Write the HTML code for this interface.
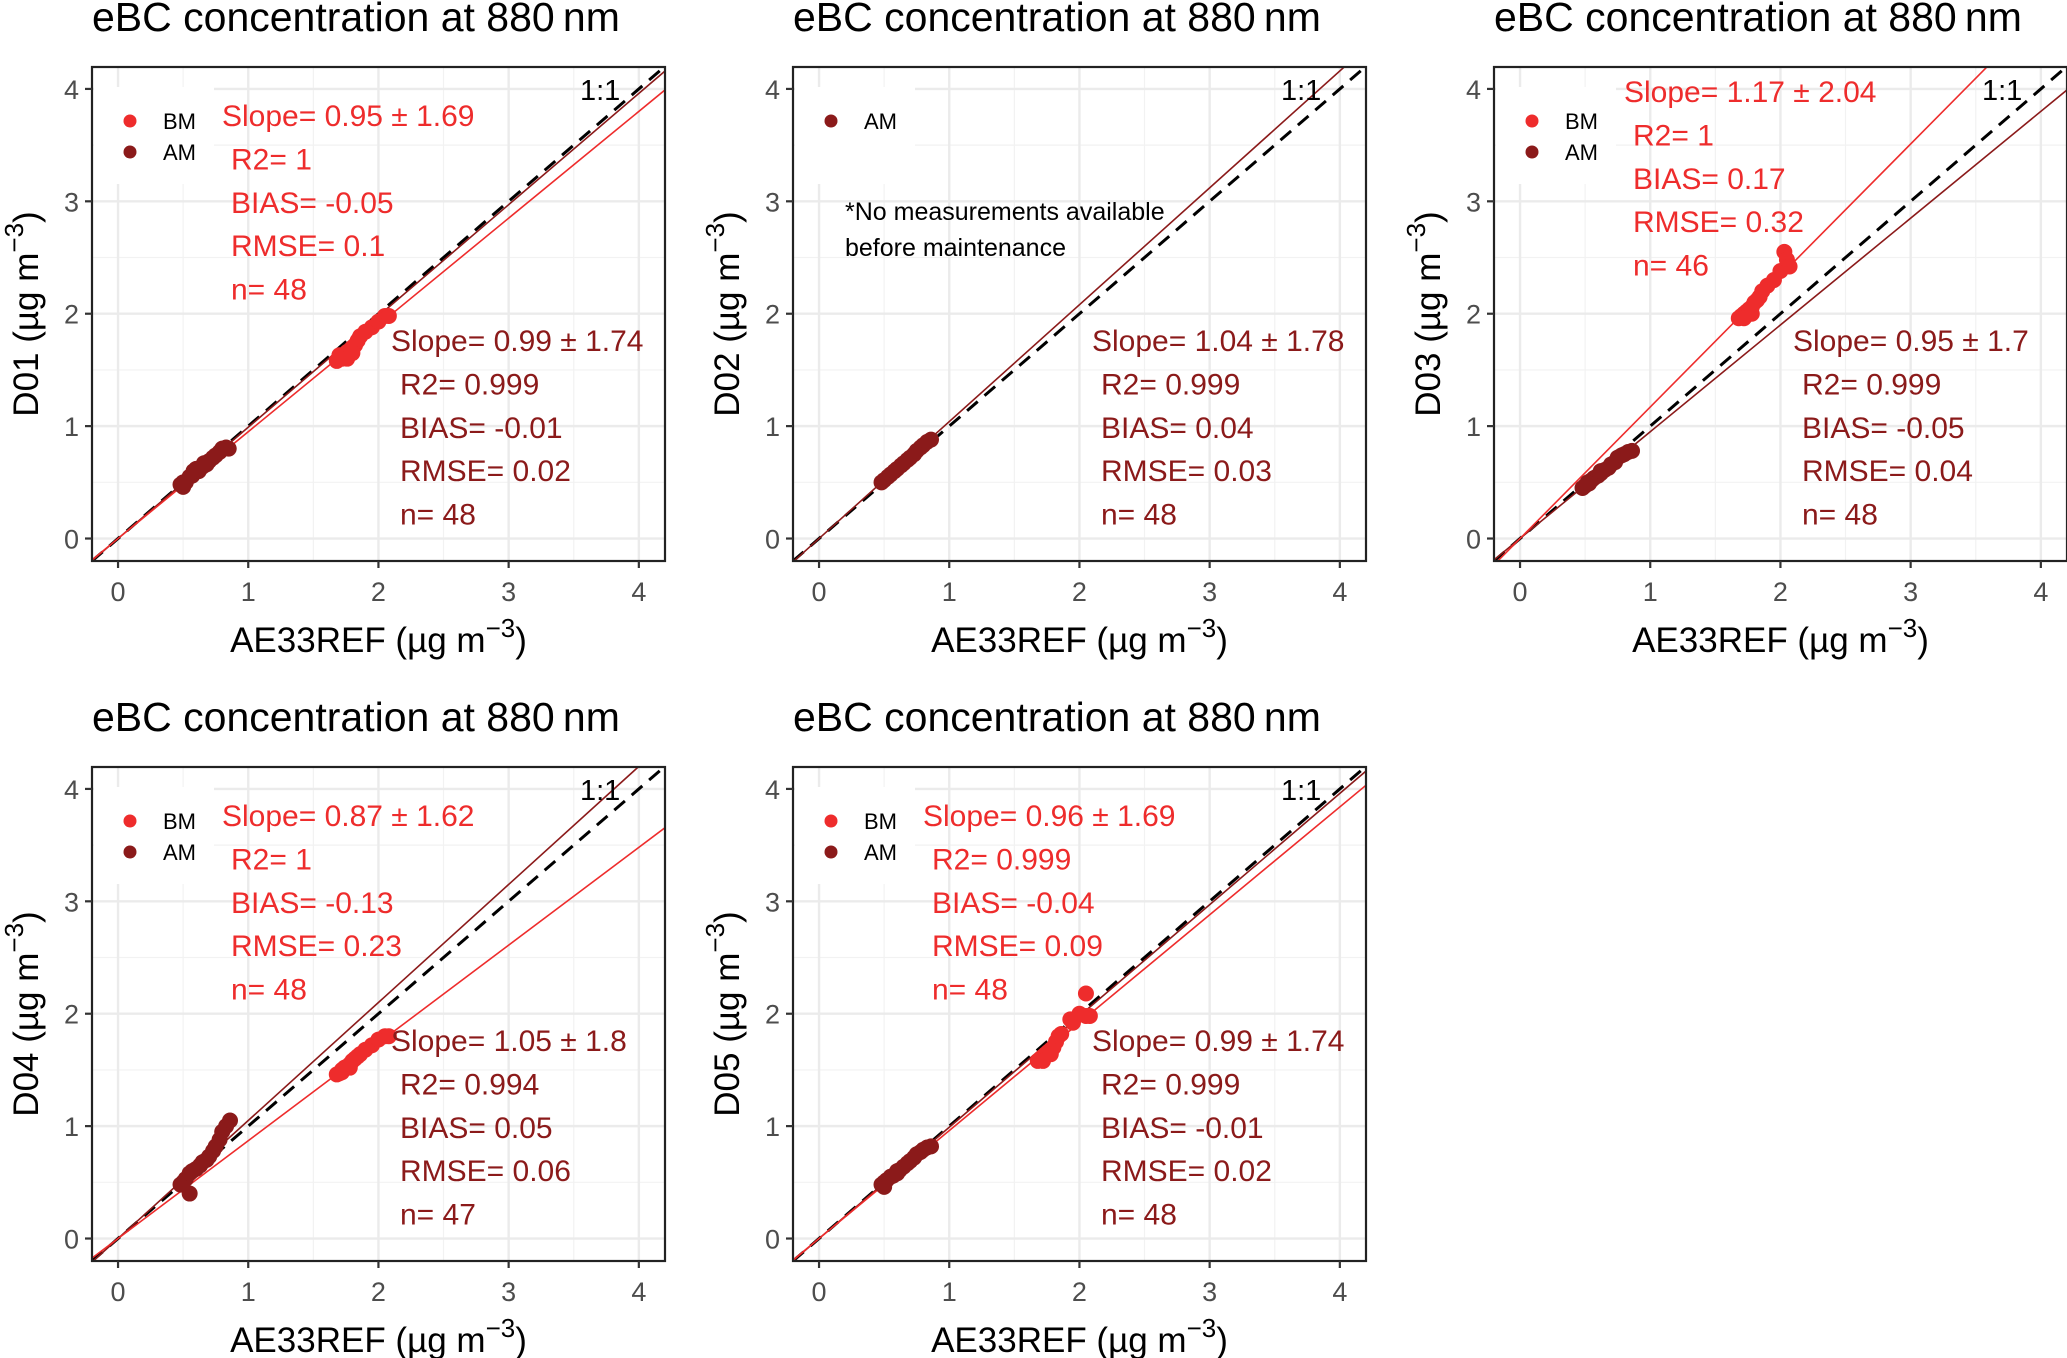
<!DOCTYPE html>
<html><head><meta charset="utf-8"><style>
html,body{margin:0;padding:0;background:#fff;}
svg{display:block;font-family:"Liberation Sans",Arial,sans-serif;}
</style></head><body>
<svg id="chart" width="2067" height="1358" viewBox="0 0 2067 1358" xmlns="http://www.w3.org/2000/svg"></svg>
<script>
const panelNames = ["D01","D02","D03","D04","D05"];
const bmSlope = [0.95, null, 1.17, 0.87, 0.96];
const amSlope = [0.99, 1.04, 0.95, 1.05, 0.99];
const bmStats = [
 ["Slope= 0.95 \u00b1 1.69","R2= 1","BIAS= -0.05","RMSE= 0.1","n= 48"],
 null,
 ["Slope= 1.17 \u00b1 2.04","R2= 1","BIAS= 0.17","RMSE= 0.32","n= 46"],
 ["Slope= 0.87 \u00b1 1.62","R2= 1","BIAS= -0.13","RMSE= 0.23","n= 48"],
 ["Slope= 0.96 \u00b1 1.69","R2= 0.999","BIAS= -0.04","RMSE= 0.09","n= 48"]];
const amStats = [
 ["Slope= 0.99 \u00b1 1.74","R2= 0.999","BIAS= -0.01","RMSE= 0.02","n= 48"],
 ["Slope= 1.04 \u00b1 1.78","R2= 0.999","BIAS= 0.04","RMSE= 0.03","n= 48"],
 ["Slope= 0.95 \u00b1 1.7","R2= 0.999","BIAS= -0.05","RMSE= 0.04","n= 48"],
 ["Slope= 1.05 \u00b1 1.8","R2= 0.994","BIAS= 0.05","RMSE= 0.06","n= 47"],
 ["Slope= 0.99 \u00b1 1.74","R2= 0.999","BIAS= -0.01","RMSE= 0.02","n= 48"]];
const amX = [
 [0.48,0.5,0.52,0.55,0.57,0.6,0.62,0.65,0.68,0.7,0.73,0.75,0.78,0.8,0.83,0.85,0.5,0.58,0.66],
 [0.48,0.5,0.53,0.55,0.58,0.6,0.63,0.65,0.68,0.7,0.73,0.75,0.78,0.8,0.83,0.86],
 [0.48,0.5,0.52,0.55,0.57,0.6,0.62,0.65,0.68,0.7,0.73,0.75,0.78,0.8,0.83,0.86,0.53,0.62],
 [0.48,0.5,0.52,0.55,0.57,0.6,0.63,0.65,0.68,0.7,0.73,0.75,0.78,0.8,0.83,0.86,0.55],
 [0.48,0.5,0.52,0.55,0.57,0.6,0.62,0.65,0.68,0.7,0.73,0.75,0.78,0.8,0.83,0.86,0.5,0.6]];
const amY = [
 [0.48,0.5,0.5,0.55,0.56,0.62,0.6,0.64,0.66,0.69,0.72,0.74,0.77,0.8,0.81,0.8,0.46,0.6,0.67],
 [0.5,0.52,0.55,0.57,0.6,0.62,0.65,0.67,0.7,0.72,0.75,0.78,0.81,0.83,0.86,0.88],
 [0.45,0.47,0.5,0.52,0.54,0.56,0.58,0.61,0.63,0.66,0.68,0.72,0.74,0.75,0.77,0.78,0.49,0.6],
 [0.48,0.5,0.53,0.58,0.6,0.62,0.65,0.68,0.7,0.73,0.78,0.82,0.88,0.95,1.0,1.05,0.4],
 [0.48,0.5,0.52,0.55,0.56,0.6,0.61,0.64,0.67,0.69,0.72,0.75,0.77,0.79,0.81,0.82,0.46,0.58]];
const bmX = [
 [1.68,1.7,1.72,1.74,1.76,1.78,1.8,1.82,1.84,1.86,1.9,1.95,2.0,2.05,2.08,1.7,1.76,1.8],
 [],
 [1.68,1.7,1.72,1.74,1.76,1.78,1.8,1.82,1.84,1.86,1.9,1.95,2.0,2.03,2.05,2.07,1.72,1.78],
 [1.68,1.7,1.72,1.74,1.76,1.78,1.8,1.82,1.84,1.86,1.9,1.95,2.0,2.05,2.08,1.72,1.78],
 [1.68,1.7,1.72,1.74,1.76,1.78,1.8,1.82,1.84,1.86,1.93,1.95,2.0,2.05,2.08,2.05,1.72,1.78]];
const bmY = [
 [1.58,1.6,1.6,1.63,1.66,1.65,1.7,1.72,1.76,1.8,1.84,1.88,1.93,1.98,1.98,1.63,1.6,1.65],
 [],
 [1.96,1.98,2.0,2.02,2.04,2.06,2.1,2.12,2.15,2.2,2.25,2.3,2.38,2.55,2.48,2.42,1.96,2.0],
 [1.46,1.47,1.5,1.52,1.53,1.55,1.58,1.6,1.62,1.64,1.68,1.72,1.77,1.8,1.8,1.48,1.52],
 [1.58,1.6,1.62,1.64,1.66,1.68,1.7,1.75,1.8,1.82,1.95,1.92,2.0,1.98,1.98,2.18,1.58,1.64]];
const ticks = [0,1,2,3,4];
const minors = [0.5,1.5,2.5,3.5];

const NS="http://www.w3.org/2000/svg";
const svg=document.getElementById('chart');
const RED="#ee2c2c", DARK="#8b1a1a";
function mk(tag,attrs,parent){const e=document.createElementNS(NS,tag);for(const k in attrs)e.setAttribute(k,attrs[k]);(parent||svg).appendChild(e);return e;}

panelNames.forEach((name,i)=>{
  const col=i%3,row=Math.floor(i/3);
  const L=92+col*701, T=67+row*700, W=573, H=494, B=T+H, R=L+W;
  const sx=v=>L+(v+0.2)*130.2;
  const sy=v=>B-(v+0.2)*112.4;
  const g=mk('g',{});
  
  
  const cid='clip'+i;
  const cp=mk('clipPath',{id:cid},g); mk('rect',{x:L,y:T,width:W,height:H},cp);
  minors.forEach(v=>{
    const a=mk('line',{x1:sx(v),x2:sx(v),y1:T,y2:B,stroke:'#f2f2f2','stroke-width':1.2},g);
    
    const b=mk('line',{x1:L,x2:R,y1:sy(v),y2:sy(v),stroke:'#f2f2f2','stroke-width':1.2},g);
    
  });
  ticks.forEach(v=>{
    const a=mk('line',{x1:sx(v),x2:sx(v),y1:T,y2:B,stroke:'#ebebeb','stroke-width':2.4},g);
    
    const b=mk('line',{x1:L,x2:R,y1:sy(v),y2:sy(v),stroke:'#ebebeb','stroke-width':2.4},g);
    
  });
  const lb=mk('rect',{x:L+2,y:T+20,width:120,height:97,fill:'#fff'},g);
  
  const lines=mk('g',{'clip-path':'url(#'+cid+')'},g);
  const one=mk('line',{x1:sx(-0.2),y1:sy(-0.2),x2:sx(4.2),y2:sy(4.2),stroke:'#000','stroke-width':3,'stroke-dasharray':'14,9'},lines);
  
  const am=mk('line',{x1:sx(-0.2),y1:sy(-0.2*amSlope[i]),x2:sx(4.2),y2:sy(4.2*amSlope[i]),stroke:DARK,'stroke-width':1.6},lines);
  
  if(bmSlope[i]!==null){
    const bm=mk('line',{x1:sx(-0.2),y1:sy(-0.2*bmSlope[i]),x2:sx(4.2),y2:sy(4.2*bmSlope[i]),stroke:RED,'stroke-width':1.6},lines);
    
  }
  bmX[i].forEach((x,k)=>{
    const c=mk('circle',{cx:sx(x),cy:sy(bmY[i][k]),r:8,fill:RED},g);
    
  });
  amX[i].forEach((x,k)=>{
    const c=mk('circle',{cx:sx(x),cy:sy(amY[i][k]),r:8,fill:DARK},g);
    
  });
  const bd=mk('rect',{x:L,y:T,width:W,height:H,fill:'none',stroke:'#222','stroke-width':2.2},g);
  
  ticks.forEach(v=>{
    mk('line',{x1:sx(v),x2:sx(v),y1:B,y2:B+7,stroke:'#333','stroke-width':2.2},g);
    mk('line',{x1:L-7,x2:L,y1:sy(v),y2:sy(v),stroke:'#333','stroke-width':2.2},g);
    const tx=mk('text',{x:sx(v),y:B+40,'text-anchor':'middle','font-size':27,fill:'#4d4d4d'},g);
    tx.textContent=v;
    
    const ty=mk('text',{x:L-13,y:sy(v)+10,'text-anchor':'end','font-size':27,fill:'#4d4d4d'},g);
    ty.textContent=v;
    
  });
  const tt=mk('text',{x:L,y:T-36,'font-size':41,fill:'#000'},g);
  tt.textContent='eBC concentration at 880\u2009nm';
  
  const xt=mk('text',{x:(L+R)/2,y:B+91,'text-anchor':'middle','font-size':35,fill:'#000'},g);
  xt.innerHTML='AE33REF (\u00b5g m<tspan dy="-15" font-size="26">\u22123</tspan><tspan dy="15">)</tspan>';
  
  const yx=L-54, yy=(T+B)/2;
  const yt=mk('text',{x:yx,y:yy,'text-anchor':'middle','font-size':35,fill:'#000',transform:'rotate(-90 '+yx+' '+yy+')'},g);
  yt.innerHTML=name+' (\u00b5g m<tspan dy="-15" font-size="26">\u22123</tspan><tspan dy="15">)</tspan>';
  
  const ol=mk('text',{x:L+488,y:T+33,'font-size':29,fill:'#000'},g);
  ol.textContent='1:1';
  
  const hasBM=bmSlope[i]!==null;
  const items=hasBM?[['BM',RED],['AM',DARK]]:[['AM',DARK]];
  items.forEach((it,k)=>{
    const cy=T+54+k*31;
    const c=mk('circle',{cx:L+38,cy:cy,r:6.5,fill:it[1]},g);
    
    const t=mk('text',{x:L+71,y:cy+8,'font-size':22,fill:'#000'},g);
    t.textContent=it[0];
    
  });
  if(hasBM){
    const by=(i===2)?T+35:T+59;
    bmStats[i].forEach((s,k)=>{
      const t=mk('text',{x:L+(k===0?130:139),y:by+k*43.4,'font-size':30,fill:RED},g);
      t.textContent=s;
      
    });
  } else {
    ['*No measurements available','before maintenance'].forEach((s,k)=>{
      const t=mk('text',{x:L+52,y:T+153+k*36,'font-size':25,fill:'#000'},g);
      t.textContent=s;
      
    });
  }
  amStats[i].forEach((s,k)=>{
    const t=mk('text',{x:L+(k===0?299:308),y:T+284+k*43.4,'font-size':30,fill:DARK},g);
    t.textContent=s;
    
  });
});
</script>
</body></html>
